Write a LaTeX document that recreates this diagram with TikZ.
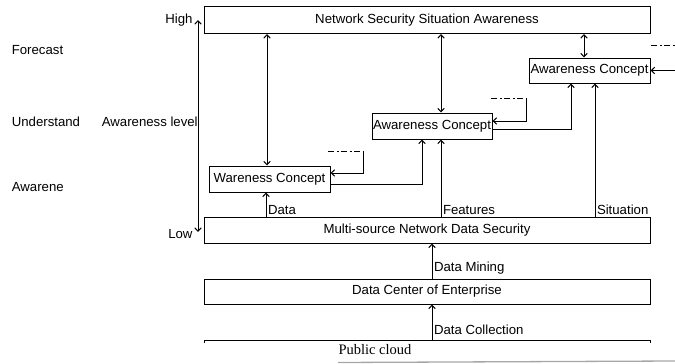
\documentclass[tikz,border=0pt]{standalone}
\usepackage{fontspec}
\setmainfont{Liberation Sans}
\newfontfamily\cloudfont{Liberation Serif}
\usetikzlibrary{arrows.meta, positioning, calc}

\begin{document}
\begin{tikzpicture}[x=1pt, y=-1pt, >={Straight Barb[length=3.5pt, width=6.5pt]},
    line width=1pt, font=\fontsize{13.2}{15}\selectfont,
    layer/.style={draw, minimum width=446pt, minimum height=26pt, inner sep=0pt},
    concept/.style={draw, minimum width=121pt, minimum height=26pt, inner sep=0pt},
    lbl/.style={inner sep=1.5pt},
    hint/.style={dash pattern=on 6pt off 2.5pt on 2pt off 2.5pt}]
  \useasboundingbox (0,0) rectangle (675,364);

  % Ebenen
  \node[layer, minimum height=27pt] (top) at (427,20) {Network Security Situation Awareness};
  \node[layer] (msrc) at (427,230) {Multi-source Network Data Security};
  \node[layer, minimum height=25pt] (dc) at (427,291.5) {Data Center of Enterprise};
  \node[concept, minimum height=25pt] (ac3) at (589.5,70.5) {Awareness Concept};
  \node[concept, minimum width=120pt] (ac2) at (432,126) {Awareness Concept};
  \node[concept] (ac1) at (269.5,179) {Wareness Concept};

  % Public cloud (abgeschnitten)
  \draw (204,343) -- (204,340) -- (650,340) -- (650,343);
  \coordinate (cl) at (432,340);
  \node[font=\cloudfont\fontsize{14.5}{16}\selectfont, anchor=west, inner sep=0pt] (cloud) at (338,350) {Public cloud};
  \draw[gray!70, line width=1.3pt] (338,362.5) -- (675,361);

  % linke Skala
  \node[anchor=west] (fc) at (8,50) {Forecast};
  \node[anchor=west] (us) at (8,122) {Understand};
  \node[anchor=west] (aw) at (8,187) {Awarene};
  \node[anchor=west] (al) at (98,122) {Awareness level};
  \coordinate (hi) at (198,20);
  \coordinate (lo) at (198,232);
  \draw[<->] (lo) -- (hi);
  \node[anchor=east, inner sep=2pt] at ([xshift=-3pt]hi) {High};
  \node[anchor=east, inner sep=2pt] at ([xshift=-3pt,yshift=-2pt]lo) {Low};

  % Verbindungen nach oben
  \draw[<->] ([xshift=-2.5pt]ac1.north) -- ([xshift=-2.5pt]ac1.north |- top.south);
  \draw[<->] ([xshift=9pt]ac2.north) -- ([xshift=9pt]ac2.north |- top.south);
  \draw[<->] ([xshift=-5.5pt]ac3.north) -- ([xshift=-5.5pt]ac3.north |- top.south);
  \draw[->] ([yshift=-5pt]ac1.east) -| ([xshift=-10pt]ac2.south);
  \draw[->] ([yshift=-3pt]ac2.east) -| ([xshift=-18.5pt]ac3.south);

  % Rueckkopplung
  \coordinate (fb1) at (363,151);
  \coordinate (fb2) at (526,98);
  \coordinate (fb3) at (675,70.5);
  \draw[hint] ([xshift=-35pt]fb1) -- ([xshift=-2pt]fb1);
  \draw[->] (fb1) |- ([yshift=6pt]ac1.east);
  \draw[hint] ([xshift=-35pt]fb2) -- ([xshift=-2pt]fb2);
  \draw[->] (fb2) |- ([yshift=5pt]ac2.east);
  \draw[hint] (651,45) -- (675,45);
  \draw[->] (fb3) -- (ac3.east);

  % Daten von unten
  \draw[->] ([xshift=-3.5pt]ac1.south |- msrc.north) -- ([xshift=-3.5pt]ac1.south)
    node[pos=0, above right, lbl] {Data};
  \draw[->] ([xshift=9pt]ac2.south |- msrc.north) -- ([xshift=9pt]ac2.south)
    node[pos=0, above right, lbl] {Features};
  \draw[->] ([xshift=5.5pt]ac3.south |- msrc.north) -- ([xshift=5.5pt]ac3.south)
    node[pos=0, above right, lbl] {Situation};
  \draw[->] ([xshift=5pt]dc.north) -- ([xshift=5pt]msrc.south)
    node[pos=0, above right, lbl, yshift=2pt] {Data Mining};
  \draw[->] (cl) -- (cl |- dc.south)
    node[pos=0, above right, lbl, yshift=3pt] {Data Collection};
\end{tikzpicture}
\end{document}
